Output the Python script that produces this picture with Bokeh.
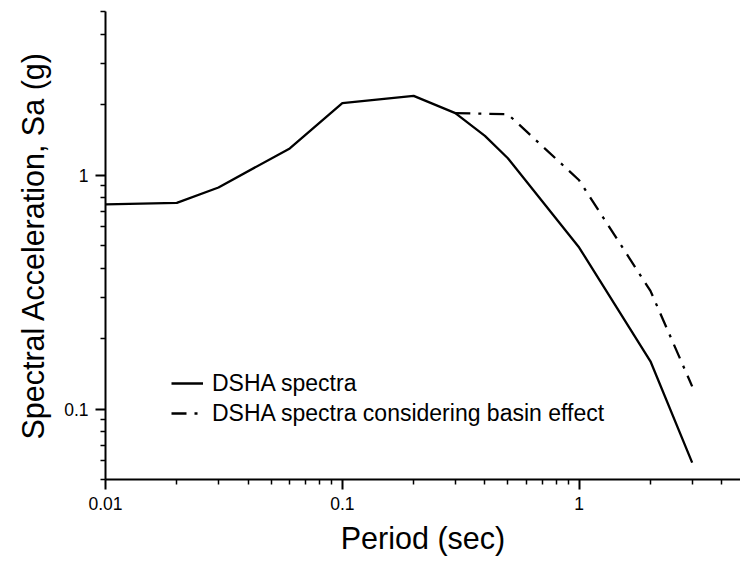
from bokeh.plotting import figure
from bokeh.models import FixedTicker, CustomJSTickFormatter, Range1d, Legend, LegendItem, Title
from bokeh.embed import file_html
from bokeh.resources import INLINE

# ---- data ----
period_dsha = [0.01, 0.02, 0.03, 0.06, 0.1, 0.2, 0.3, 0.4, 0.5, 1.0, 2.0, 3.0]
sa_dsha = [0.75, 0.76, 0.885, 1.30, 2.03, 2.18, 1.84, 1.47, 1.18, 0.49, 0.16, 0.059]

period_basin = [0.3, 0.5, 1.0, 2.0, 3.0]
sa_basin = [1.84, 1.82, 0.95, 0.32, 0.125]

x_major_ticks = [0.01, 0.1, 1]
y_major_ticks = [0.1, 1]
legend_labels = ["DSHA spectra", "DSHA spectra considering basin effect"]
x_title = "Period (sec)"
y_title = "Spectral Acceleration, Sa (g)"

X_MIN, X_MAX = 0.01, 4.8
Y_MIN, Y_MAX = 0.05, 5.0

mult = [2, 3, 4, 5, 6, 7, 8, 9]
x_minor_ticks = [m * 10.0 ** e for e in (-2, -1, 0) for m in mult if X_MIN < m * 10.0 ** e < X_MAX]
y_minor_ticks = [m * 10.0 ** e for e in (-2, -1, 0) for m in mult if Y_MIN <= m * 10.0 ** e <= Y_MAX]

FONT = "Liberation Sans"

p = figure(width=740, height=567, x_axis_type="log", y_axis_type="log",
           x_range=Range1d(X_MIN, X_MAX), y_range=Range1d(Y_MIN, Y_MAX),
           output_backend="svg", toolbar_location=None,
           min_border_left=105, min_border_right=0, min_border_top=11, min_border_bottom=88)

p.outline_line_color = None
p.xgrid.visible = False
p.ygrid.visible = False
p.background_fill_color = "white"
p.border_fill_color = "white"

r1 = p.line(period_dsha, sa_dsha, line_color="black", line_width=2.3)
r2 = p.line(period_basin, sa_basin, line_color="black", line_width=2.3, line_dash="15 8 3 8")

fmt = CustomJSTickFormatter(code="return String(Number(tick.toPrecision(4)));")

p.xaxis.ticker = FixedTicker(ticks=x_major_ticks, minor_ticks=x_minor_ticks)
p.yaxis.ticker = FixedTicker(ticks=y_major_ticks, minor_ticks=y_minor_ticks)

for ax in (p.xaxis, p.yaxis):
    ax.formatter = fmt
    ax.axis_line_width = 2
    ax.axis_line_color = "black"
    ax.major_tick_line_width = 2
    ax.minor_tick_line_width = 1.5
    ax.major_tick_out = 10
    ax.major_tick_in = 0
    ax.minor_tick_out = 5
    ax.minor_tick_in = 0
    ax.major_label_text_font = FONT
    ax.major_label_text_font_size = "17.5px"
    ax.major_label_text_color = "black"
    ax.major_label_standoff = 7
    ax.axis_label_text_font = FONT
    ax.axis_label_text_font_size = "30.5px"
    ax.axis_label_text_font_style = "normal"
    ax.axis_label_text_color = "black"

p.xaxis.axis_label = x_title
p.xaxis.axis_label_standoff = 8

# y title as a left-side title, shifted a little below the frame centre as in the reference
p.add_layout(Title(text=y_title, align="center", offset=-15, standoff=24,
                   text_font=FONT, text_font_size="30.5px", text_font_style="normal",
                   text_color="black"), "left")

legend = Legend(items=[LegendItem(label=legend_labels[0], renderers=[r1]),
                       LegendItem(label=legend_labels[1], renderers=[r2])],
                location=(66, 51), padding=0, margin=0, spacing=0,
                glyph_width=32, glyph_height=30, label_height=30, label_standoff=9,
                border_line_alpha=0, background_fill_alpha=0,
                label_text_font=FONT, label_text_font_size="23px", label_text_color="black")
p.add_layout(legend)

open("out.html", "w").write(file_html(p, INLINE))
